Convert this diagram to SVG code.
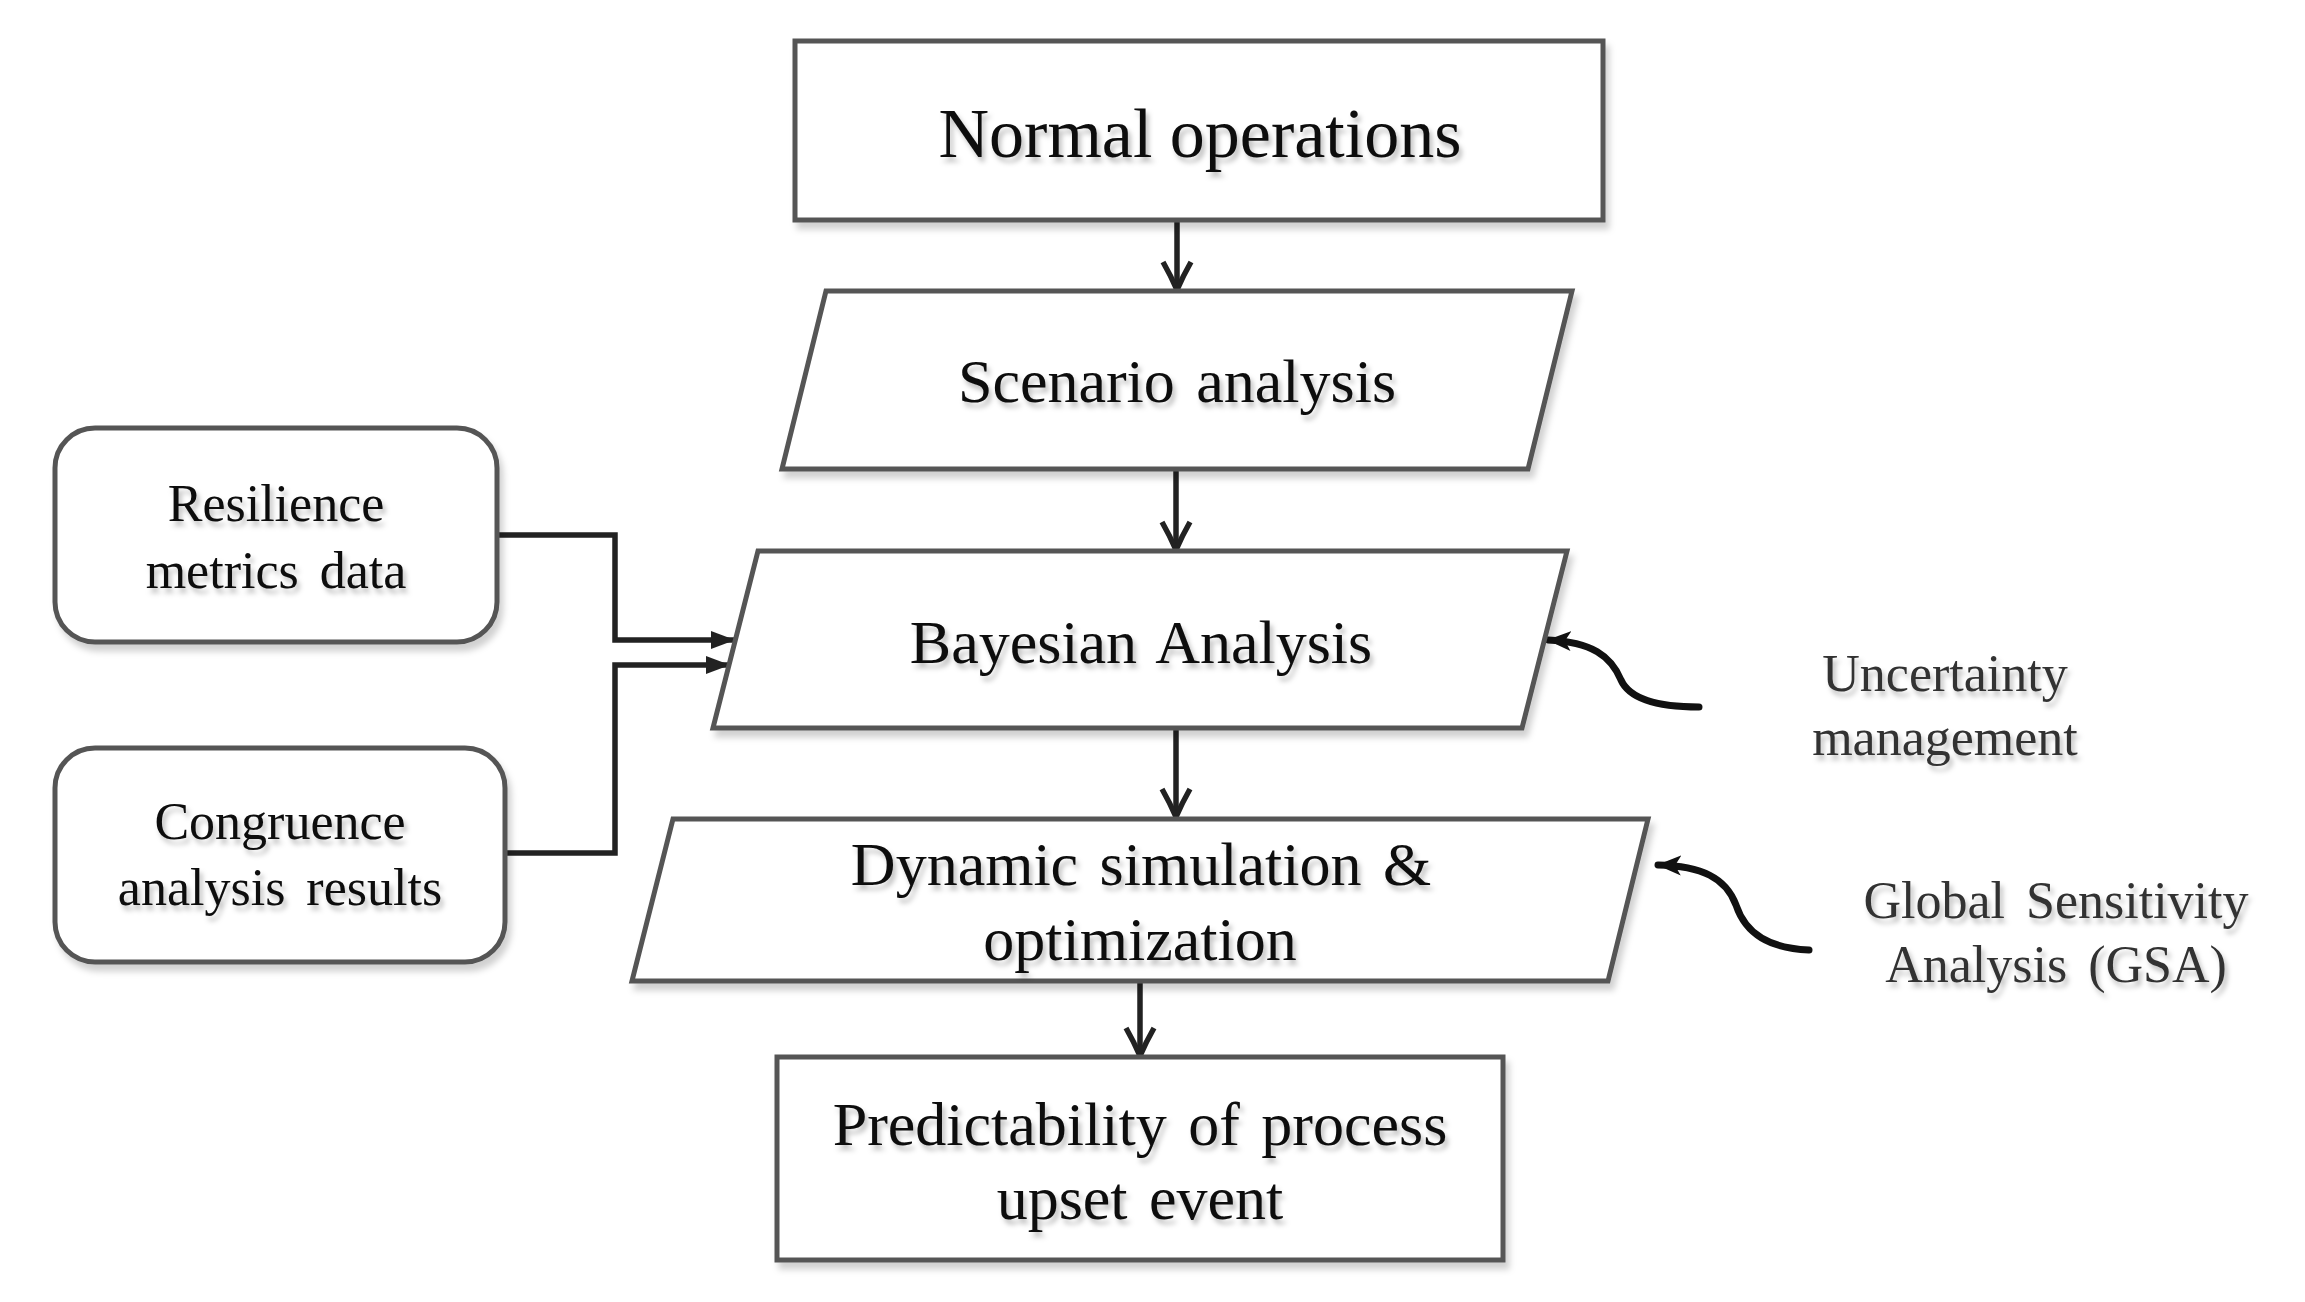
<svg xmlns="http://www.w3.org/2000/svg" width="2305" height="1302" viewBox="0 0 2305 1302">
  <defs>
    <filter id="sh" x="-5%" y="-5%" width="115%" height="125%">
      <feDropShadow dx="4" dy="7" stdDeviation="3" flood-color="#000" flood-opacity="0.18"/>
    </filter>
    <filter id="tsh" x="-5%" y="-10%" width="115%" height="140%">
      <feDropShadow dx="3" dy="5" stdDeviation="2.5" flood-color="#000" flood-opacity="0.25"/>
    </filter>
    <marker id="vee" viewBox="0 0 32 34" refX="30" refY="17" markerWidth="32" markerHeight="34" markerUnits="userSpaceOnUse" orient="auto">
      <path d="M2,3 Q16,11 30,17 Q16,23 2,31" fill="none" stroke="#222" stroke-width="5.5"/>
    </marker>
    <marker id="tri" viewBox="0 0 24 20" refX="23" refY="10" markerWidth="24" markerHeight="20" markerUnits="userSpaceOnUse" orient="auto">
      <path d="M0,1 L24,10 L0,19 Z" fill="#222"/>
    </marker>
    <marker id="small" viewBox="0 0 24 20" refX="23" refY="10" markerWidth="24" markerHeight="20" markerUnits="userSpaceOnUse" orient="auto">
      <path d="M0,0 L24,10 L0,20 L6,10 Z" fill="#111"/>
    </marker>
  </defs>
  <style>
    .box { fill: #fff; stroke: #555; stroke-width: 5; stroke-linejoin: miter; filter: url(#sh); }
    .t { font-family: "Liberation Serif", "Times New Roman", serif; fill: #0a0a0a; text-anchor: middle; filter: url(#tsh); }
    .big { font-size: 70px; }
    .mid { font-size: 62px; word-spacing: 6px; }
    .sm { font-size: 52px; word-spacing: 8px; }
    .lbl { fill: #333; }
    .conn { fill: none; stroke: #222; stroke-width: 5.5; }
    .curve { fill: none; stroke: #111; stroke-width: 7; stroke-linecap: round; }
  </style>
  <rect width="2305" height="1302" fill="#fff"/>

  <g id="connectors">
    <path class="conn" d="M1177,222 V290" marker-end="url(#vee)"/>
    <path class="conn" d="M1176,471 V550" marker-end="url(#vee)"/>
    <path class="conn" d="M1176,730 V817" marker-end="url(#vee)"/>
    <path class="conn" d="M1140,983 V1056" marker-end="url(#vee)"/>
    <path class="conn" d="M497,535 H615 V640 H734" marker-end="url(#tri)"/>
    <path class="conn" d="M505,853 H615 V665 H729" marker-end="url(#tri)"/>
    <path class="curve" d="M1699,707 C1660,707 1630,700 1621,680 C1611,656 1592,642 1548,640" marker-end="url(#small)"/>
    <path class="curve" d="M1809,950 C1770,948 1746,935 1736,905 C1726,878 1702,866 1658,865" marker-end="url(#small)"/>
  </g>

  <g id="normal-operations">
    <rect class="box" x="795" y="41" width="808" height="179"/>
    <text class="t big" x="1200" y="157">Normal operations</text>
  </g>

  <g id="scenario-analysis">
    <polygon class="box" points="826,291 1572,291 1528,469 782,469"/>
    <text class="t mid" x="1177" y="402">Scenario analysis</text>
  </g>

  <g id="bayesian-analysis">
    <polygon class="box" points="758,551 1567,551 1522,728 713,728"/>
    <text class="t mid" x="1141" y="663">Bayesian Analysis</text>
  </g>

  <g id="dynamic-simulation">
    <polygon class="box" points="673,819 1648,819 1608,981 632,981"/>
    <text class="t mid" x="1141" y="885">Dynamic simulation &amp;</text>
    <text class="t mid" x="1140" y="960">optimization</text>
  </g>

  <g id="predictability">
    <rect class="box" x="777" y="1057" width="726" height="203"/>
    <text class="t mid" x="1140" y="1145">Predictability of process</text>
    <text class="t mid" x="1140" y="1219">upset event</text>
  </g>

  <g id="resilience-metrics">
    <rect class="box" x="55" y="428" width="442" height="214" rx="40" ry="40"/>
    <text class="t sm" x="276" y="521">Resilience</text>
    <text class="t sm" x="276" y="588">metrics data</text>
  </g>

  <g id="congruence-analysis">
    <rect class="box" x="55" y="748" width="450" height="214" rx="40" ry="40"/>
    <text class="t sm" x="280" y="839">Congruence</text>
    <text class="t sm" x="280" y="905">analysis results</text>
  </g>

  <g id="uncertainty-management">
    <text class="t sm lbl" x="1945" y="691">Uncertainty</text>
    <text class="t sm lbl" x="1945" y="755">management</text>
  </g>

  <g id="global-sensitivity-analysis">
    <text class="t sm lbl" x="2056" y="918">Global Sensitivity</text>
    <text class="t sm lbl" x="2056" y="982">Analysis (GSA)</text>
  </g>
</svg>
